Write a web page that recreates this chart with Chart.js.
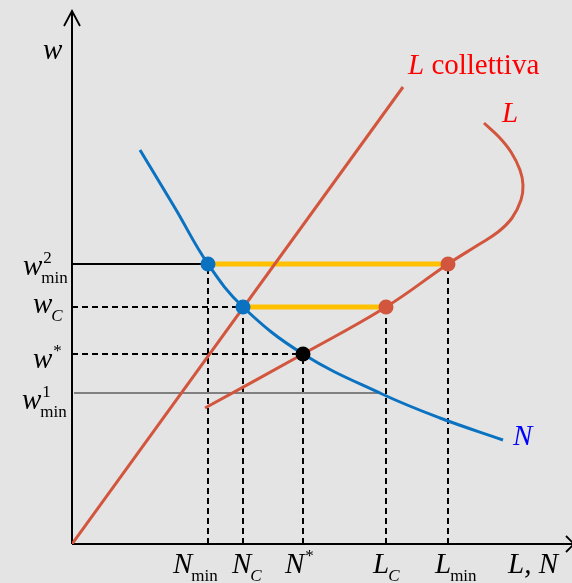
<!DOCTYPE html>
<html>
<head>
<meta charset="utf-8">
<script src="https://cdn.jsdelivr.net/npm/chart.js@4.4.0/dist/chart.umd.min.js"></script>
<style>
  html, body { margin: 0; padding: 0; background: #e4e4e4; }
  #wrap { width: 572px; height: 583px; }
</style>
</head>
<body>
<div id="wrap"><canvas id="labourChart" width="572" height="583"></canvas></div>
<script>
// labour demand N (employment, wage)
const demandX = [68, 103, 136, 171, 231, 310, 368, 431];
const demandY = [394, 336, 280, 237, 190, 150, 126, 104];

// individual labour supply L, bending backwards at high wages
const supplyX = [133, 231, 314, 376, 406, 426, 440, 449, 451, 448, 439, 427, 412];
const supplyY = [136, 190, 237, 280, 299, 312, 326, 344, 359, 374, 392, 407, 421];

// collective labour supply
const collectiveX = [0, 331];
const collectiveY = [0, 457];

// wage levels
const wMin2 = 280, wC = 237, wStar = 190, wMin1 = 151;
// quantities at those wages
const nMin = 136, nC = 171, nStar = 231, lC = 314, lMin = 376, nAtMin1 = 308;

// axis labels: main letter, superscript, subscript
const yTickValues = [wMin2, wC, wStar, wMin1];
const yTickMain = ['w', 'w', 'w', 'w'];
const yTickSup = ['2', '', '*', '1'];
const yTickSub = ['min', 'C', '', 'min'];

const xTickValues = [nMin, nC, nStar, lC, lMin];
const xTickMain = ['N', 'N', 'N', 'L', 'L'];
const xTickSup = ['', '', '*', '', ''];
const xTickSub = ['min', 'C', '', 'C', 'min'];

const RED = '#d2553d';
const BLUE = '#0a72c0';
const GOLD = '#ffc000';

const pts = (xs, ys) => xs.map((x, i) => ({ x, y: ys[i] }));
const seg = (x1, y1, x2, y2) => [{ x: x1, y: y1 }, { x: x2, y: y2 }];

function refLine(data, dashed, color) {
  return {
    data, showLine: true, borderColor: color || '#000', borderWidth: 2,
    borderDash: dashed ? [6, 4] : [], pointRadius: 0, order: 5
  };
}

const datasets = [
  // guide lines to the axes
  refLine(seg(0, wMin2, nMin, wMin2), false),
  refLine(seg(0, wC, nC, wC), true),
  refLine(seg(0, wStar, nStar, wStar), true),
  refLine(seg(2, wMin1, nAtMin1, wMin1), false, '#808080'),
  refLine(seg(nMin, 0, nMin, wMin2), true),
  refLine(seg(nC, 0, nC, wC), true),
  refLine(seg(nStar, 0, nStar, wStar), true),
  refLine(seg(lC, 0, lC, wC), true),
  refLine(seg(lMin, 0, lMin, wMin2), true),
  // unemployment gaps
  { data: seg(nMin, wMin2, lMin, wMin2), showLine: true, borderColor: GOLD, borderWidth: 5, pointRadius: 0, order: 4 },
  { data: seg(nC, wC, lC, wC), showLine: true, borderColor: GOLD, borderWidth: 5, pointRadius: 0, order: 4 },
  // curves
  { data: pts(collectiveX, collectiveY), showLine: true, borderColor: RED, borderWidth: 3, pointRadius: 0, order: 3 },
  { data: pts(supplyX, supplyY), showLine: true, borderColor: RED, borderWidth: 3, tension: 0.4, pointRadius: 0, order: 3 },
  { data: pts(demandX, demandY), showLine: true, borderColor: BLUE, borderWidth: 3, tension: 0.4, pointRadius: 0, order: 3 },
  // equilibrium points
  { data: [{ x: nMin, y: wMin2 }, { x: nC, y: wC }], pointRadius: 7.5, pointBackgroundColor: BLUE, pointBorderWidth: 0, order: 1 },
  { data: [{ x: lC, y: wC }, { x: lMin, y: wMin2 }], pointRadius: 7.5, pointBackgroundColor: RED, pointBorderWidth: 0, order: 1 },
  { data: [{ x: nStar, y: wStar }], pointRadius: 7.5, pointBackgroundColor: '#000', pointBorderWidth: 0, order: 1 }
];

const MAIN_FONT = 'italic 29px "Liberation Serif"';
const SMALL = '17px "Liberation Serif"';
const SMALL_IT = 'italic 17px "Liberation Serif"';

// letter with optional superscript / subscript
function drawSymbol(ctx, x, y, main, sup, sub, color) {
  ctx.fillStyle = color || '#000';
  ctx.font = MAIN_FONT;
  ctx.fillText(main, x, y);
  const w = ctx.measureText(main).width;
  if (sup) {
    ctx.font = SMALL;
    ctx.fillText(sup, x + w + 1, y - 12);
  }
  if (sub) {
    ctx.font = sub === 'min' ? SMALL : SMALL_IT;
    ctx.fillText(sub, x + w - 1, y + 8);
  }
}

const diagramPlugin = {
  id: 'diagram',
  beforeDraw(chart) {
    const ctx = chart.ctx;
    ctx.save();
    ctx.fillStyle = '#e4e4e4';
    ctx.fillRect(0, 0, chart.width, chart.height);
    ctx.restore();
  },
  beforeDatasetsDraw(chart) {
    const { ctx, scales: { x, y } } = chart;
    const ox = x.getPixelForValue(0), oy = y.getPixelForValue(0);
    ctx.save();
    ctx.strokeStyle = '#000';
    ctx.lineWidth = 2;
    ctx.beginPath();
    ctx.moveTo(ox, oy); ctx.lineTo(ox, 11);
    ctx.moveTo(ox, oy); ctx.lineTo(chart.width + 2, oy);
    ctx.stroke();
    // arrow heads
    ctx.lineWidth = 1.8;
    ctx.beginPath();
    ctx.moveTo(ox - 8, 26); ctx.lineTo(ox, 11); ctx.lineTo(ox + 8, 26);
    ctx.moveTo(chart.width - 6, oy - 8); ctx.lineTo(chart.width + 2, oy); ctx.lineTo(chart.width - 6, oy + 8);
    ctx.stroke();
    ctx.restore();
  },
  afterDraw(chart) {
    const { ctx, scales: { x, y } } = chart;
    const ox = x.getPixelForValue(0), oy = y.getPixelForValue(0);
    ctx.save();
    ctx.textBaseline = 'alphabetic';
    ctx.textAlign = 'left';

    // y axis
    drawSymbol(ctx, ox - 29, 59, 'w');
    const yDx = [-49, -39, -39, -50];
    const yDy = [11, 6, 14, 16];
    yTickValues.forEach((v, i) => {
      drawSymbol(ctx, ox + yDx[i], y.getPixelForValue(v) + yDy[i], yTickMain[i], yTickSup[i], yTickSub[i]);
    });

    // x axis
    const xDx = [-35, -11, -18, -13, -13];
    xTickValues.forEach((v, i) => {
      drawSymbol(ctx, x.getPixelForValue(v) + xDx[i], oy + 29, xTickMain[i], xTickSup[i], xTickSub[i]);
    });
    ctx.font = MAIN_FONT;
    ctx.fillStyle = '#000';
    ctx.fillText('L, N', 508, oy + 29);

    // curve names
    const cEnd = x.getPixelForValue(collectiveX[1]);
    const cTop = y.getPixelForValue(collectiveY[1]);
    ctx.fillStyle = '#ff0000';
    ctx.font = MAIN_FONT;
    ctx.fillText('L', cEnd + 5, cTop - 13);
    const lw = ctx.measureText('L ').width;
    ctx.font = '29px "Liberation Serif"';
    ctx.fillText('collettiva', cEnd + 5 + lw, cTop - 13);

    const sLast = supplyX.length - 1;
    ctx.font = MAIN_FONT;
    ctx.fillText('L', x.getPixelForValue(supplyX[sLast]) + 18, y.getPixelForValue(supplyY[sLast]) - 1);

    const dLast = demandX.length - 1;
    ctx.fillStyle = '#0000ff';
    ctx.fillText('N', x.getPixelForValue(demandX[dLast]) + 10, y.getPixelForValue(demandY[dLast]) + 5);
    ctx.restore();
  }
};

new Chart(document.getElementById('labourChart'), {
  type: 'scatter',
  data: { datasets },
  options: {
    responsive: false,
    animation: false,
    devicePixelRatio: 1,
    layout: { autoPadding: false, padding: { left: 72, right: 0, top: 10, bottom: 39 } },
    plugins: { legend: { display: false }, tooltip: { enabled: false } },
    scales: {
      x: { type: 'linear', min: 0, max: 500, display: false },
      y: { type: 'linear', min: 0, max: 534, display: false }
    }
  },
  plugins: [diagramPlugin]
});
</script>
</body>
</html>
